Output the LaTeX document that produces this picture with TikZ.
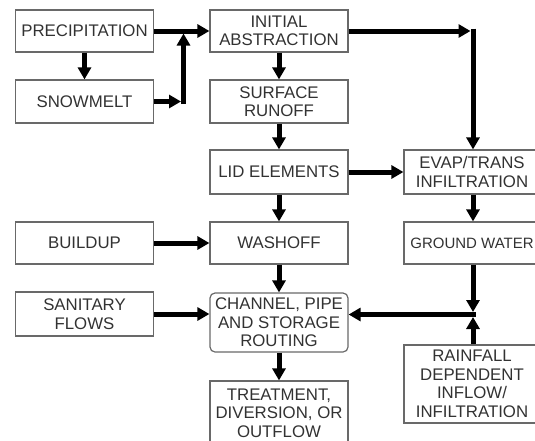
\documentclass[tikz,border=0pt]{standalone}
\usepackage{fontspec}
\setmainfont{Liberation Sans}
\usepackage{tikz}
\usetikzlibrary{arrows.meta}
\definecolor{boxline}{RGB}{105,105,105}
\definecolor{boxtext}{RGB}{50,50,50}

\begin{document}
\begin{tikzpicture}[x=1pt, y=-1pt,
    block/.style={rectangle, draw=boxline, line width=1.2pt, minimum width=138pt, minimum height=42pt, align=center, text=boxtext, inner sep=0pt, font=\fontsize{16.8}{18.5}\selectfont},
    flow/.style={-{Triangle[length=12pt, width=13pt]}, line width=5pt}
]
    \useasboundingbox (0,0) rectangle (535,440);
    \clip (0,0) rectangle (535,440);

    % Blocks
    \node[block] (precip) at (84.5,31) {PRECIPITATION};
    \node[block, minimum height=43pt] (snow) at (84.5,101.5) {SNOWMELT};
    \node[block] (init) at (279,31) {INITIAL\\ABSTRACTION};
    \node[block, minimum height=43pt] (surf) at (279,101.5) {SURFACE\\RUNOFF};
    \node[block, minimum height=44pt] (lid) at (279,172) {LID ELEMENTS};
    \node[block, minimum height=44pt, minimum width=136pt] (evap) at (472,172) {EVAP/TRANS\\INFILTRATION};
    \node[block] (buildup) at (84.5,243) {BUILDUP};
    \node[block] (washoff) at (279,243) {WASHOFF};
    \node[block, minimum width=136pt, font=\fontsize{15}{18.5}\selectfont] (ground) at (472,243) {GROUND WATER};
    \node[block, minimum height=44pt] (sanitary) at (84.5,314) {SANITARY\\FLOWS};
    \node[block, rounded corners=5pt, minimum height=59pt] (channel) at (279,322.5) {CHANNEL, PIPE\\AND STORAGE\\ROUTING};
    \node[block, minimum height=64pt] (treat) at (279,413) {TREATMENT,\\DIVERSION, OR\\OUTFLOW};
    \node[block, minimum height=78pt, minimum width=136pt] (rain) at (472,384) {RAINFALL\\DEPENDENT\\INFLOW/\\INFILTRATION};

    % Junctions
    \coordinate (j1) at (183.5,101.5);
    \coordinate (j2) at (473,28.5);
    \coordinate (j3) at (473,314.5);

    % Arrows
    \draw[flow] (precip) -- (init);
    \draw[flow] (precip) -- (snow);
    \draw[flow, shorten >=2.5pt] (snow) -- (j1);
    \draw[flow, shorten <=-2.5pt, shorten >=2.5pt] (j1) -- (j1 |- precip);
    \draw[flow, shorten >=2.5pt] (init.east) -- (j2 |- init.east);
    \draw[flow] (j2) -- (j2 |- evap.north);
    \draw[flow] (init) -- (surf);
    \draw[flow] (surf) -- (lid);
    \draw[flow] (lid) -- (evap);
    \draw[flow] (lid) -- (washoff);
    \draw[flow] (evap.south -| j2) -- (ground.north -| j2);
    \draw[flow] (buildup) -- (washoff);
    \draw[flow] (washoff) -- (channel);
    \draw[flow] (sanitary) -- (channel.west |- sanitary);
    \draw[flow, shorten >=2.5pt] (ground.south -| j3) -- (j3);
    \draw[flow, shorten >=2.5pt] (rain.north -| j3) -- (j3);
    \draw[flow, shorten <=-2.5pt] (j3) -- (channel.east |- j3);
    \draw[flow] (channel) -- (treat);
\end{tikzpicture}
\end{document}
